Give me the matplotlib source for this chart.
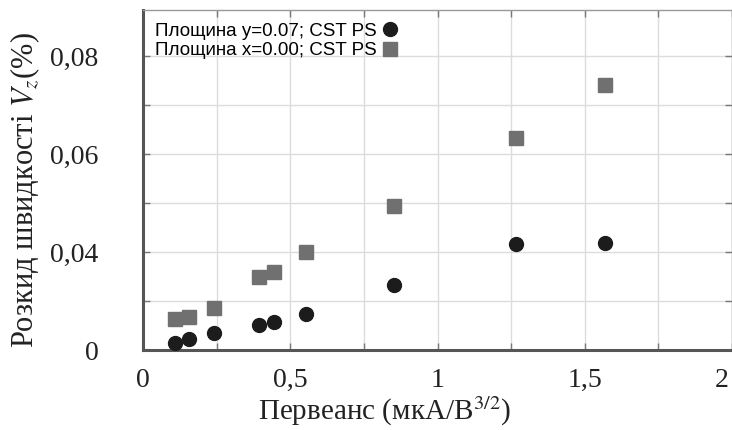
import matplotlib
matplotlib.use("Agg")
import matplotlib.pyplot as plt
import matplotlib.transforms as mtransforms
from matplotlib.ticker import MultipleLocator, FuncFormatter

# perveance, uA/V^1.5
perv = [0.110, 0.155, 0.242, 0.395, 0.444, 0.552, 0.851, 1.265, 1.569]
# velocity spread Vz, %
spread_y007 = [0.0214, 0.0222, 0.0234, 0.0251, 0.0257, 0.0273, 0.0332, 0.0416, 0.0418]
spread_x000 = [0.0263, 0.0267, 0.0286, 0.0348, 0.0359, 0.0401, 0.0493, 0.0633, 0.0741]

labels = ["Площина y=0.07; CST PS", "Площина x=0.00; CST PS"]
x_ticklabels = {0.0: "0", 0.5: "0,5", 1.0: "1", 1.5: "1,5", 2.0: "2"}
y_ticklabels = {0.02: "0", 0.04: "0,04", 0.06: "0,06", 0.08: "0,08"}

plt.rcParams["font.family"] = ["Liberation Serif", "DejaVu Serif"]
plt.rcParams["mathtext.fontset"] = "stix"

fig = plt.figure(figsize=(7.32, 4.30), dpi=100)
ax = fig.add_axes([143 / 732, 80 / 430, 1 - 143 / 732, 340 / 430])

ax.plot(perv, spread_y007, "o", color="#1c1c1c", ms=10, label=labels[0], zorder=3)
ax.plot(perv, spread_x000, "s", color="#707070", ms=9.5, label=labels[1], zorder=3)

ax.set_xlim(0, 2)
ax.set_ylim(0.02, 0.02 + 340 / 4900)

ax.xaxis.set_major_locator(MultipleLocator(0.25))
ax.yaxis.set_major_locator(MultipleLocator(0.01))


def lookup(table):
    def fmt(v, pos):
        for k, s in table.items():
            if abs(v - k) < 1e-6:
                return s
        return ""
    return FuncFormatter(fmt)


ax.xaxis.set_major_formatter(lookup(x_ticklabels))
ax.yaxis.set_major_formatter(lookup(y_ticklabels))

ax.grid(True, color="#dcdcdc", lw=1.0)
ax.set_axisbelow(True)
ax.tick_params(direction="in", length=5, width=1, color="#777777",
               top=True, right=True, labelsize=20, labelcolor="#222222")
ax.tick_params(axis="x", pad=13)
ax.tick_params(axis="y", pad=32)
for side in ["left", "bottom"]:
    ax.spines[side].set_color("#555555")
    ax.spines[side].set_linewidth(2.2)
for side in ["top", "right"]:
    ax.spines[side].set_color("#999999")
    ax.spines[side].set_linewidth(1)

# the "2" label sits on the figure edge, pull it inside
fig.canvas.draw()
shift = mtransforms.ScaledTranslation(-3 / 100, 0, fig.dpi_scale_trans)
for tick in ax.xaxis.get_major_ticks():
    if abs(tick.get_loc() - 2.0) < 1e-6:
        tick.label1.set_horizontalalignment("right")
        tick.label1.set_transform(tick.label1.get_transform() + shift)

ax.set_xlabel("Первеанс (мкА/В$^{3/2}$)", fontsize=21, color="#222222")
ax.xaxis.set_label_coords(0.41, -0.13)
ax.set_ylabel("Розкид швидкості $V_z$(%)", fontsize=22, color="#222222")
ax.yaxis.set_label_coords(-0.172, 0.47)

ax.legend(loc="upper left", bbox_to_anchor=(-0.008, 1.012), frameon=False,
          markerfirst=False, handlelength=0.8, handletextpad=0.3, labelspacing=0.12,
          prop={"family": ["Liberation Sans Narrow", "Liberation Sans"], "size": 13.5})

fig.savefig("out.png", dpi=100)
